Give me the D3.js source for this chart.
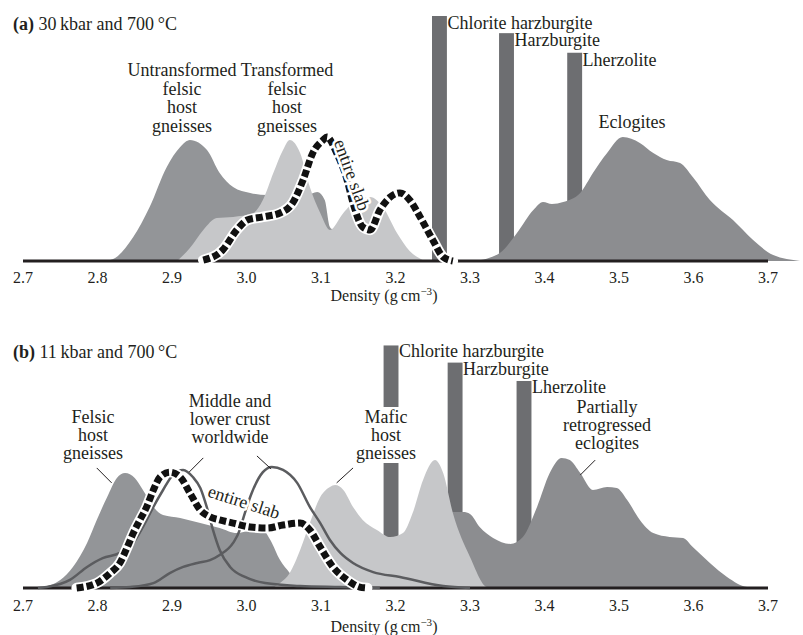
<!DOCTYPE html>
<html><head><meta charset="utf-8">
<script src="https://cdn.jsdelivr.net/npm/d3@7"></script>
<style>body{margin:0;background:#fff}svg{display:block}</style>
</head><body>
<svg id="chart" width="803" height="635"></svg>
<script>
// ---------- DATA ----------
const tickValues = [2.7, 2.8, 2.9, 3.0, 3.1, 3.2, 3.3, 3.4, 3.5, 3.6, 3.7];
const barNames = ["Chlorite harzburgite", "Harzburgite", "Lherzolite"];

// Panel (a) 30 kbar, 700 °C  — [density, relative frequency]
const aUntransformed = [[2.800,0],[2.817,0.4],[2.848,9.8],[2.870,22.0],[2.893,38.4],[2.911,46.5],[2.924,49.4],[2.947,45.3],[2.964,35.9],[2.982,30.2],[3.005,27.8],[3.028,26.9],[3.054,26.9],[3.081,26.9],[3.095,28.2],[3.105,24.9],[3.112,13.9],[3.116,12.7],[3.140,8.0],[3.170,2.0],[3.200,0]];
const aTransformed = [[2.907,0],[2.924,5.3],[2.942,12.7],[2.960,17.6],[2.982,18.0],[3.009,19.6],[3.022,24.9],[3.036,35.9],[3.049,45.3],[3.058,49.4],[3.072,44.1],[3.085,30.2],[3.099,19.6],[3.112,12.7],[3.130,19.6],[3.148,24.9],[3.166,26.1],[3.183,22.0],[3.202,11.4],[3.219,4.1],[3.240,0]];
const aSlab = [[2.942,0.4],[2.968,4.5],[2.987,12.7],[3.001,16.7],[3.022,18.0],[3.045,19.6],[3.062,23.7],[3.076,33.1],[3.089,44.1],[3.103,49.4],[3.108,50.6],[3.121,44.1],[3.135,33.1],[3.143,23.7],[3.156,13.9],[3.166,12.7],[3.179,20.8],[3.193,26.1],[3.206,27.8],[3.219,24.9],[3.233,18.0],[3.250,8.6],[3.264,1.6],[3.277,0]];
const aEclogite = [[3.307,0],[3.340,3.3],[3.363,11.4],[3.385,20.8],[3.398,24.1],[3.410,23.3],[3.425,24.1],[3.448,27.8],[3.465,35.9],[3.484,44.1],[3.505,50.6],[3.528,48.2],[3.546,44.1],[3.564,41.2],[3.582,40.0],[3.599,34.3],[3.622,24.9],[3.653,16.7],[3.680,8.6],[3.707,2.4],[3.743,0]];
const aBarCenters = [3.259, 3.349, 3.4405];
const aBarValues = [100, 93, 85];

// Panel (b) 11 kbar, 700 °C
const bFelsic = [[2.715,0],[2.727,0.4],[2.750,3.3],[2.767,8.6],[2.786,18.4],[2.799,27.8],[2.813,37.1],[2.826,44.9],[2.837,46.9],[2.850,44.9],[2.861,40.0],[2.875,33.1],[2.888,29.8],[2.911,28.6],[2.938,26.5],[2.964,24.5],[2.987,22.4],[3.005,23.7],[3.018,24.9],[3.032,19.6],[3.045,11.4],[3.058,6.1],[3.072,0]];
const bMafic = [[3.035,0],[3.045,2.0],[3.058,6.1],[3.072,15.5],[3.085,26.5],[3.099,37.1],[3.112,41.2],[3.119,42.0],[3.130,40.0],[3.143,33.1],[3.156,27.8],[3.175,23.7],[3.193,20.8],[3.210,22.4],[3.223,30.6],[3.237,44.1],[3.253,52.2],[3.264,46.9],[3.277,30.6],[3.300,12.7],[3.323,0.4],[3.335,0]];
const bEclogite = [[3.219,0],[3.246,16.3],[3.277,31.0],[3.291,31.0],[3.300,30.2],[3.313,24.9],[3.331,20.4],[3.354,18.0],[3.371,20.8],[3.390,33.1],[3.407,46.9],[3.423,53.1],[3.434,52.2],[3.448,46.9],[3.465,40.0],[3.484,41.2],[3.497,40.8],[3.511,35.9],[3.528,27.8],[3.546,22.4],[3.568,20.8],[3.586,20.4],[3.599,16.7],[3.622,10.2],[3.645,4.5],[3.672,0.4],[3.693,0]];
const bCrust1 = [[2.720,0],[2.732,0.4],[2.763,3.3],[2.786,8.6],[2.807,12.2],[2.830,14.3],[2.848,18.4],[2.861,24.9],[2.875,33.1],[2.888,40.0],[2.901,46.1],[2.915,48.2],[2.928,45.3],[2.938,40.8],[2.947,32.7],[2.955,23.7],[2.964,15.5],[2.978,8.6],[2.998,4.5],[3.025,2.0],[3.072,0.8],[3.126,0.4],[3.179,0]];
const bCrust2 = [[2.817,0],[2.844,0.4],[2.875,2.0],[2.897,6.1],[2.915,8.6],[2.934,10.2],[2.951,11.4],[2.964,13.5],[2.982,18.4],[2.991,23.7],[2.995,27.8],[3.007,38.8],[3.022,47.3],[3.034,49.4],[3.049,48.2],[3.068,42.9],[3.085,33.1],[3.099,26.5],[3.112,19.6],[3.126,14.3],[3.143,10.2],[3.170,6.5],[3.206,4.5],[3.264,0.8],[3.300,0]];
const bSlab = [[2.772,0],[2.799,2.0],[2.817,6.1],[2.830,10.2],[2.840,16.7],[2.848,22.4],[2.857,27.8],[2.866,33.1],[2.875,40.0],[2.884,45.3],[2.897,47.3],[2.911,45.3],[2.924,38.8],[2.938,31.8],[2.951,29.0],[2.964,27.8],[2.982,26.5],[3.005,24.9],[3.028,24.5],[3.049,25.7],[3.072,26.5],[3.085,23.7],[3.099,16.7],[3.116,8.6],[3.135,3.3],[3.152,0.4],[3.162,0]];
const bBarCenters = [3.194, 3.280, 3.3725];
const bBarValues = [99, 92, 84.5];
// leader lines [[d1,v1],[d2,v2]]
const bLeaders = [
  [[2.799,49.0],[2.819,42.9]],
  [[2.942,53.1],[2.923,47.3]],
  [[3.014,53.9],[3.033,48.6]],
  [[3.143,49.0],[3.121,42.9]],
  [[3.468,52.2],[3.448,46.1]]
];

// ---------- STYLE ----------
const FONT = "'Liberation Serif','Times New Roman',Times,serif";
const C_DARK = "#939598", C_LIGHT = "#c6c7c9", C_ECLO = "#8c8d90", C_BAR = "#6d6e71", C_LINE = "#5b5c5f", C_AXIS = "#231f20";
const BAR_W = 0.02;

const svg = d3.select("#chart");
const x = d3.scaleLinear().domain([2.7, 3.7]).range([23, 768]);

function makePanel(baseY) {
  const y = d3.scaleLinear().domain([0, 100]).range([baseY, baseY - 245]);
  const g = svg.append("g");
  const area = d3.area().x(d => x(d[0])).y0(y(0)).y1(d => y(d[1])).curve(d3.curveMonotoneX);
  const line = d3.line().x(d => x(d[0])).y(d => y(d[1])).curve(d3.curveMonotoneX);
  return {y, g, area, line};
}
function bars(P, centers, values) {
  P.g.selectAll(null).data(centers).enter().append("rect")
    .attr("x", d => x(d - BAR_W / 2)).attr("width", d => x(d + BAR_W / 2) - x(d - BAR_W / 2))
    .attr("y", (d, i) => P.y(values[i])).attr("height", (d, i) => P.y(0) - P.y(values[i]))
    .attr("fill", C_BAR);
}
function areaPath(P, data, fill) {
  P.g.append("path").datum(data).attr("d", P.area).attr("fill", fill);
}
function axis(P, tickBase, titleBase) {
  P.g.append("line").attr("x1", x(2.7)).attr("x2", x(3.7)).attr("y1", P.y(0)).attr("y2", P.y(0))
    .attr("stroke", C_AXIS).attr("stroke-width", 3);
  P.g.selectAll(null).data(tickValues).enter().append("text")
    .attr("x", d => x(d)).attr("y", tickBase).attr("text-anchor", "middle")
    .attr("font-family", FONT).attr("font-size", 16).attr("fill", C_AXIS)
    .text(d => d3.format(".1f")(d));
  const t = P.g.append("text").attr("x", 384).attr("y", titleBase).attr("text-anchor", "middle")
    .attr("font-family", FONT).attr("font-size", 16).attr("fill", C_AXIS);
  t.append("tspan").text("Density (g\u2009cm");
  t.append("tspan").attr("font-size", 11).attr("dy", -6).text("\u22123");
  t.append("tspan").attr("dy", 6).text(")");
}
function slab(P, data) {
  P.g.append("path").datum(data).attr("d", P.line).attr("fill", "none")
    .attr("stroke", "#fff").attr("stroke-width", 10.5).attr("stroke-linecap", "round");
  P.g.append("path").datum(data).attr("d", P.line).attr("fill", "none")
    .attr("stroke", "#111").attr("stroke-width", 7).attr("stroke-dasharray", "7,3");
}
function label(g, lines, cx, base0, step, opts = {}) {
  const t = g.append("text").attr("font-family", FONT).attr("font-size", 18).attr("fill", C_AXIS)
    .attr("text-anchor", opts.anchor || "middle");
  lines.forEach((s, i) => t.append("tspan").attr("x", cx).attr("y", base0 + i * step).text(s));
  if (opts.box) {
    const b = t.node().getBBox();
    g.insert("rect", () => t.node()).attr("x", b.x - 1).attr("y", b.y).attr("width", b.width + 2)
      .attr("height", b.height).attr("fill", "#fff");
  }
  return t;
}
function rotLabel(g, s, cx, cy, ang) {
  g.append("text").attr("transform", `translate(${cx},${cy}) rotate(${ang})`)
    .attr("text-anchor", "middle").attr("dominant-baseline", "central")
    .attr("font-family", FONT).attr("font-size", 18).attr("fill", C_AXIS)
    .attr("stroke", "#fff").attr("stroke-width", 5).attr("paint-order", "stroke").attr("stroke-linejoin", "round")
    .text(s);
}
function title(g, bold, rest, base) {
  const t = g.append("text").attr("x", 13).attr("y", base).attr("font-family", FONT).attr("font-size", 18).attr("fill", C_AXIS);
  t.append("tspan").attr("font-weight", "bold").text(bold);
  t.append("tspan").text(" " + rest);
}

// ---------- PANEL A ----------
const A = makePanel(261);
bars(A, aBarCenters, aBarValues);
areaPath(A, aUntransformed, C_DARK);
areaPath(A, aTransformed, C_LIGHT);
areaPath(A, aEclogite, C_ECLO);
axis(A, 283, 301);
slab(A, aSlab);
title(A.g, "(a)", "30\u2009kbar and 700\u2009\u00b0C", 30);
label(A.g, ["Untransformed", "felsic", "host", "gneisses"], 182, 76, 18.5);
label(A.g, ["Transformed", "felsic", "host", "gneisses"], 287, 76, 18.5);
label(A.g, ["Eclogites"], 632, 128, 18);
aBarCenters.forEach((c, i) => {
  label(A.g, [barNames[i]], x(c + BAR_W / 2) + 0.5, A.y(aBarValues[i]) + 13, 18, {anchor: "start"});
});
rotLabel(A.g, "entire slab", 352, 175, 70);

// ---------- PANEL B ----------
const B = makePanel(588);
bars(B, bBarCenters, bBarValues);
areaPath(B, bEclogite, C_ECLO);
areaPath(B, bFelsic, C_DARK);
areaPath(B, bMafic, C_LIGHT);
axis(B, 611, 632);
[bCrust1, bCrust2].forEach(d => {
  B.g.append("path").datum(d).attr("d", B.line).attr("fill", "none")
    .attr("stroke", C_LINE).attr("stroke-width", 2.5);
});
B.g.selectAll(null).data(bLeaders).enter().append("line")
  .attr("x1", d => x(d[0][0])).attr("y1", d => B.y(d[0][1]))
  .attr("x2", d => x(d[1][0])).attr("y2", d => B.y(d[1][1]))
  .attr("stroke", C_AXIS).attr("stroke-width", 1);
slab(B, bSlab);
title(B.g, "(b)", "11\u2009kbar and 700\u2009\u00b0C", 358);
label(B.g, ["Felsic", "host", "gneisses"], 93, 423, 18);
label(B.g, ["Middle and", "lower crust", "worldwide"], 230, 407, 18);
label(B.g, ["Mafic", "host", "gneisses"], 386, 423, 18, {box: true});
label(B.g, ["Partially", "retrogressed", "eclogites"], 607, 413, 18);
bBarCenters.forEach((c, i) => {
  label(B.g, [barNames[i]], x(c + BAR_W / 2) + 0.5, B.y(bBarValues[i]) + 12, 18, {anchor: "start"});
});
rotLabel(B.g, "entire slab", 244, 502, 18);
</script>
</body></html>
